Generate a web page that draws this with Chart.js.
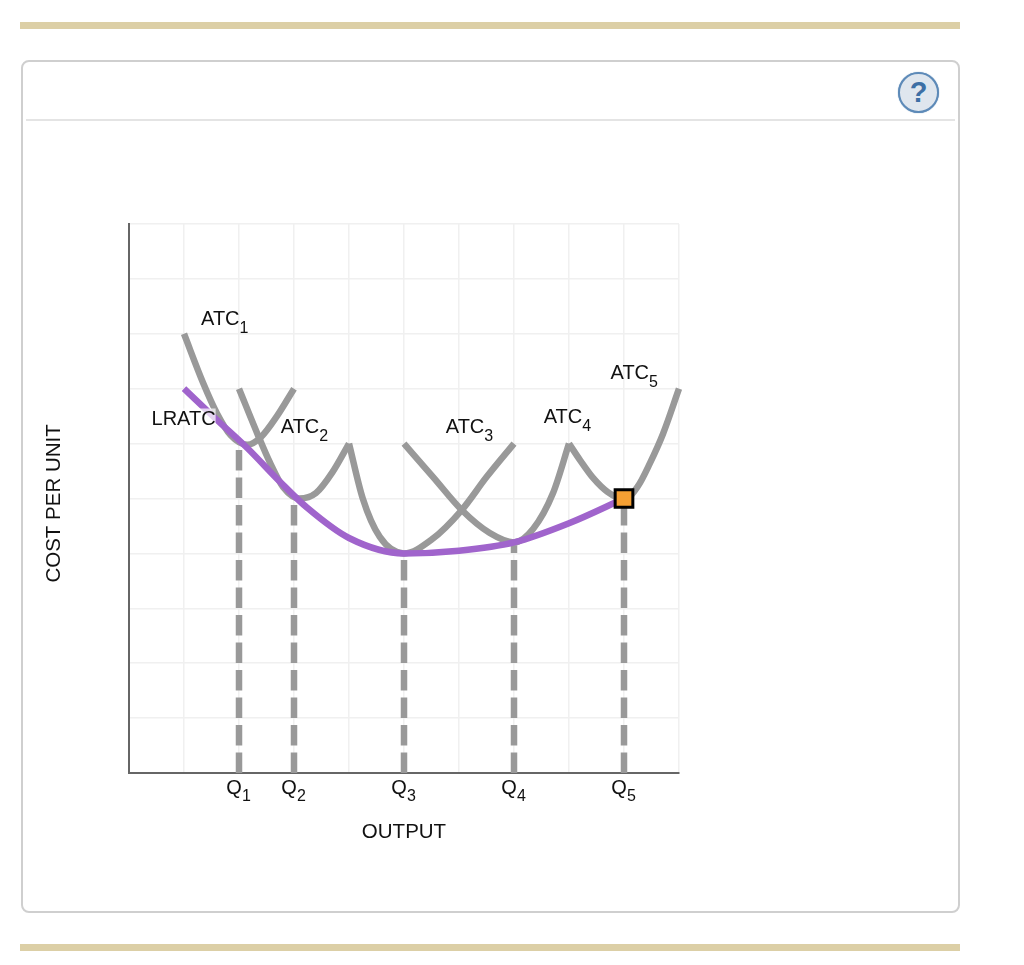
<!DOCTYPE html>
<html><head><meta charset="utf-8">
<script src="https://cdn.jsdelivr.net/npm/chart.js@4"></script>
<style>
html,body{margin:0;padding:0;background:#fff;width:1024px;height:965px;overflow:hidden;font-family:"Liberation Sans",Arial,sans-serif}
.bar{position:absolute;left:20px;width:940px;height:7px;background:#dccfa6}
#card{position:absolute;left:21px;top:60px;width:935px;height:849px;border:2px solid #cfcfcf;border-radius:8px;box-sizing:content-box}
#rule{position:absolute;left:26px;top:119px;width:929px;height:2px;background:#e4e4e4}
#help{position:absolute;left:898px;top:72px;width:37px;height:37px;border:2px solid #5d8ab8;border-radius:50%;background:#dfe6ee;color:#3d6fa5;font:bold 29px/37px "Liberation Sans",Arial,sans-serif;text-align:center;box-shadow:0 0 1px #5d8ab8}
#c{position:absolute;left:0;top:0}
</style></head><body>
<div class="bar" style="top:22px"></div>
<div id="card"></div><div id="rule"></div><div id="help">?</div>
<div class="bar" style="top:944px"></div>
<canvas id="c" width="1024" height="965"></canvas>
<script>
const atc1X=[1,1.35,1.6,1.85,2.15,2.4,2.69,3];
const atc1Y=[8,7.1,6.55,6.15,5.98,6.12,6.5,7];
const atc2X=[2,2.33,2.56,2.8,3.1,3.4,3.7,4];
const atc2Y=[7,6.19,5.66,5.21,5.0,5.1,5.48,6];
const atc3X=[4,4.25,4.56,5,5.5,6.05,6.5,7];
const atc3Y=[6,5,4.3,4,4.25,4.79,5.39,6];
const atc4X=[5,5.53,6.05,6.56,7,7.35,7.71,8];
const atc4Y=[6,5.39,4.79,4.37,4.2,4.45,5.1,6];
const atc5X=[8,8.2,8.45,8.7,9,9.25,9.47,9.71,10];
const atc5Y=[6,5.7,5.36,5.12,4.98,5.22,5.64,6.18,7];
const lratcX=[1,1.6,2.15,2.75,3.24,4,5,6,7,8,9];
const lratcY=[7,6.43,5.92,5.3,4.83,4.28,4,4.05,4.2,4.55,5];
const qX=[2,3,5,7,9];
const qTop=[5.9,4.88,3.88,4.15,5];
const qLabels=['Q','Q','Q','Q','Q'];
const qSubs=['1','2','3','4','5'];
const markerX=[9];
const markerY=[5];
const curveNames=['ATC','ATC','ATC','ATC','ATC','LRATC'];
const curveSubs=['1','2','3','4','5',''];
const labelX=[1.31,2.76,5.76,7.54,8.755,0.41];
const labelY=[8.16,6.2,6.2,6.38,7.18,6.33];
const xTitle='OUTPUT';
const yTitle='COST PER UNIT';

const FONT='"Liberation Sans", Arial, sans-serif';
const GRAY='#999999', PURPLE='#a064cc';
const pts=(xs,ys)=>xs.map((x,i)=>({x,y:ys[i]}));
const curve=(label,xs,ys,color)=>({label,data:pts(xs,ys),borderColor:color,borderWidth:6.5,pointRadius:0,
  cubicInterpolationMode:'monotone',fill:false,clip:false});
const dash=(i)=>({label:'Q'+qSubs[i]+' guide',data:[{x:qX[i],y:0},{x:qX[i],y:qTop[i]}],borderColor:GRAY,borderWidth:6.5,
  borderDash:[20.5,7],pointRadius:0,tension:0,fill:false});

const labelsPlugin={id:'labels',afterDatasetsDraw(chart){
  const {ctx,scales:{x,y}}=chart;
  ctx.save();ctx.fillStyle='#111';ctx.textBaseline='alphabetic';ctx.textAlign='left';
  curveNames.forEach((t,i)=>{
    const px=x.getPixelForValue(labelX[i]),py=y.getPixelForValue(labelY[i]);
    ctx.font='20px '+FONT;
    const w=ctx.measureText(t).width;
    if(!curveSubs[i]){ctx.fillStyle='rgba(255,255,255,0.72)';ctx.fillRect(px,py-17,w,17);ctx.fillStyle='#111';}
    ctx.fillText(t,px,py);
    if(curveSubs[i]){ctx.font='16px '+FONT;ctx.fillText(curveSubs[i],px+w,py+8);}
  });
  qSubs.forEach((s,i)=>{
    ctx.font='16px '+FONT;
    ctx.fillText(s,x.getPixelForValue(qX[i])+3,y.getPixelForValue(0)+28);
  });
  ctx.save();
  ctx.translate(59.5,y.getPixelForValue(4.91));ctx.rotate(-Math.PI/2);
  ctx.textAlign='center';ctx.font='20.5px '+FONT;ctx.fillText(yTitle,0,0);
  ctx.restore();
  ctx.restore();
}};

new Chart(document.getElementById('c'),{
  type:'line',
  data:{datasets:[
    {label:'Point',data:pts(markerX,markerY),pointStyle:'rect',pointRadius:12.5,pointBorderWidth:3,
     pointBackgroundColor:'#f5a033',pointBorderColor:'#000',showLine:false,clip:false},
    curve('LRATC',lratcX,lratcY,PURPLE),
    curve('ATC1',atc1X,atc1Y,GRAY),curve('ATC2',atc2X,atc2Y,GRAY),curve('ATC3',atc3X,atc3Y,GRAY),
    curve('ATC4',atc4X,atc4Y,GRAY),curve('ATC5',atc5X,atc5Y,GRAY),
    ...qX.map((_,i)=>dash(i))
  ]},
  options:{
    responsive:false,animation:false,devicePixelRatio:1,
    layout:{padding:{left:42,top:224,right:345,bottom:112}},
    plugins:{legend:{display:false},tooltip:{enabled:false},title:{display:false}},
    scales:{
      x:{type:'linear',min:0,max:10,afterFit(s){s.height=80;},
        grid:{color:'#f0f0f0',lineWidth:1.5,drawTicks:false},border:{color:'#666666',width:2},
        ticks:{stepSize:1,maxRotation:0,autoSkip:false,padding:3,labelOffset:-5,color:'#111',font:{family:FONT,size:20},
          callback:v=>{const i=qX.indexOf(v);return i<0?'':qLabels[i];}},
        title:{display:true,text:xTitle,color:'#111',font:{family:FONT,size:20.5},padding:{top:0,bottom:8}}},
      y:{type:'linear',min:0,max:10,afterFit(s){s.width=87;},
        grid:{color:'#f0f0f0',lineWidth:1.5,drawTicks:false},border:{color:'#666666',width:2},
        ticks:{stepSize:1,display:false}}
    }
  },
  plugins:[labelsPlugin]
});
</script>
</body></html>
